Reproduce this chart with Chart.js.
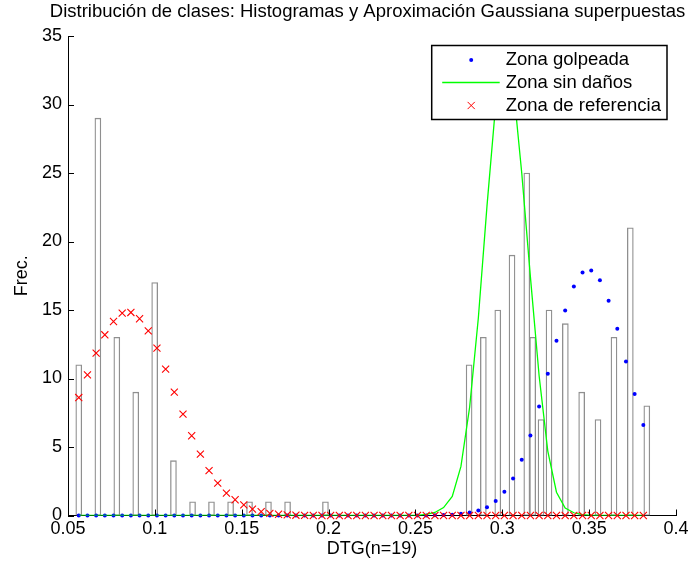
<!DOCTYPE html>
<html>
<head>
<meta charset="utf-8">
<script src="https://cdn.jsdelivr.net/npm/chart.js@4"></script>
<style>
  html, body { margin: 0; padding: 0; background: #fff; }
  #wrap { width: 695px; height: 567px; }
</style>
</head>
<body>
<div id="wrap"><canvas id="c" width="695" height="567"></canvas></div>
<script>
// ---- data ----
const chartTitle = 'Distribución de clases: Histogramas y Aproximación Gaussiana superpuestas';
const xAxisTitle = 'DTG(n=19)';
const yAxisTitle = 'Frec.';

const xTickValues = [0.05, 0.1, 0.15, 0.2, 0.25, 0.3, 0.35, 0.4];
const xTickLabels = ['0.05', '0.1', '0.15', '0.2', '0.25', '0.3', '0.35', '0.4'];
const yTickValues = [0, 5, 10, 15, 20, 25, 30, 35];
const yTickLabels = ['0', '5', '10', '15', '20', '25', '30', '35'];

// histogram bins (centers) and counts
const refBinCenters = [0.0562, 0.0672, 0.0781, 0.0890, 0.0999, 0.1107, 0.1217, 0.1326, 0.1436, 0.1545, 0.1654, 0.1764, 0.1873, 0.1982];
const refCounts     = [11, 29, 13, 9, 17, 4, 1, 1, 1, 1, 1, 1, 0, 1];
const sanoBinCenters = [0.2809, 0.2891, 0.2974, 0.3056, 0.3141, 0.3223];
const sanoCounts     = [11, 13, 15, 19, 25, 7];
const golpBinCenters = [0.3175, 0.3269, 0.3363, 0.3457, 0.3551, 0.3643, 0.3737, 0.3832];
const golpCounts     = [13, 15, 14, 9, 7, 13, 21, 8];

// gaussian approximation sample points
const xGrid = [
  0.0562, 0.0612, 0.0662, 0.0712, 0.0762, 0.0812, 0.0862, 0.0912, 0.0962, 0.1012,
  0.1062, 0.1112, 0.1162, 0.1212, 0.1262, 0.1312, 0.1362, 0.1412, 0.1462, 0.1512,
  0.1562, 0.1612, 0.1662, 0.1712, 0.1762, 0.1812, 0.1862, 0.1912, 0.1962, 0.2012,
  0.2062, 0.2112, 0.2162, 0.2212, 0.2262, 0.2312, 0.2362, 0.2412, 0.2462, 0.2512,
  0.2562, 0.2612, 0.2662, 0.2712, 0.2762, 0.2812, 0.2862, 0.2912, 0.2962, 0.3012,
  0.3062, 0.3112, 0.3162, 0.3212, 0.3262, 0.3312, 0.3362, 0.3412, 0.3462, 0.3512,
  0.3562, 0.3612, 0.3662, 0.3712, 0.3762, 0.3812
];
const golpeadaFit = [
  0, 0, 0, 0, 0, 0, 0, 0, 0, 0,
  0, 0, 0, 0, 0, 0, 0, 0, 0, 0,
  0, 0, 0, 0, 0, 0, 0, 0, 0, 0,
  0, 0, 0, 0, 0, 0, 0, 0, 0, 0,
  0, 0.01, 0.03, 0.06, 0.12, 0.22, 0.37, 0.61, 1.05, 1.73,
  2.70, 4.07, 5.84, 7.96, 10.34, 12.75, 14.96, 16.72, 17.74, 17.88,
  17.18, 15.67, 13.63, 11.24, 8.86, 6.60
];
const sinDanosFit = [
  0, 0, 0, 0, 0, 0, 0, 0, 0, 0,
  0, 0, 0, 0, 0, 0, 0, 0, 0, 0,
  0, 0, 0, 0, 0, 0, 0, 0, 0, 0,
  0, 0, 0, 0, 0, 0, 0, 0, 0, 0,
  0.08, 0.22, 0.58, 1.39, 3.58, 7.9, 14.4, 22.6, 30.0, 33.5,
  31.5, 25.0, 17.4, 10.2, 4.7, 1.7, 0.55, 0.2, 0.06, 0,
  0, 0, 0, 0, 0, 0
];
const referenciaFit = [
  8.61, 10.27, 11.85, 13.19, 14.16, 14.77, 14.82, 14.36, 13.48, 12.22,
  10.68, 9.0, 7.40, 5.82, 4.48, 3.28, 2.36, 1.63, 1.15, 0.78,
  0.47, 0.28, 0.16, 0.09, 0.05, 0.02, 0.01, 0, 0, 0,
  0, 0, 0, 0, 0, 0, 0, 0, 0, 0,
  0, 0, 0, 0, 0, 0, 0, 0, 0, 0,
  0, 0, 0, 0, 0, 0, 0, 0, 0, 0,
  0, 0, 0, 0, 0, 0
];

const seriesLabels = ['Zona golpeada', 'Zona sin daños', 'Zona de referencia'];

// ---- helpers ----
const pts = (xs, ys) => xs.map((x, i) => ({ x: x, y: ys[i] }));
const FONT = '"Liberation Sans", Arial, Helvetica, sans-serif';
Chart.defaults.font.family = FONT;
Chart.defaults.color = '#000';

const barStyle = {
  type: 'bar',
  backgroundColor: '#ffffff',
  borderColor: '#8f8f8f',
  borderWidth: 1.3,
  barThickness: 6,
  grouped: false,
  borderSkipped: false,
  order: 5
};

const inwardTicks = {
  id: 'inwardTicks',
  afterDatasetsDraw(chart) {
    const { ctx, chartArea, scales } = chart;
    const xs = scales.x, ys = scales.y;
    ctx.save();
    ctx.strokeStyle = '#000';
    ctx.lineWidth = 1;
    ctx.beginPath();
    xs.ticks.forEach(t => {
      const px = Math.round(xs.getPixelForValue(t.value)) + 0.5;
      ctx.moveTo(px, chartArea.bottom);
      ctx.lineTo(px, chartArea.bottom - 6);
    });
    ys.ticks.forEach(t => {
      const py = Math.round(ys.getPixelForValue(t.value)) + 0.5;
      ctx.moveTo(chartArea.left, py);
      ctx.lineTo(chartArea.left + 6, py);
    });
    ctx.stroke();
    ctx.restore();
  }
};

const boxLegend = {
  id: 'boxLegend',
  afterDraw(chart) {
    const { ctx, chartArea } = chart;
    const order = [2, 1, 0]; // golpeada, sin danos, referencia
    ctx.save();
    ctx.font = '18.5px ' + FONT;
    let maxW = 0;
    order.forEach(i => { maxW = Math.max(maxW, ctx.measureText(chart.data.datasets[i].label).width); });
    const textOff = 74;
    const w = textOff + maxW + 6;
    const h = 74;
    const right = chartArea.right - 9;
    const left = right - w;
    const top = chartArea.top + 9.5;
    ctx.fillStyle = '#fff';
    ctx.fillRect(left, top, w, h);
    ctx.strokeStyle = '#000';
    ctx.lineWidth = 1.5;
    ctx.strokeRect(left, top, w, h);
    const rowY = [top + 14.5, top + 37, top + 60];
    order.forEach((di, r) => {
      const ds = chart.data.datasets[di];
      const y = rowY[r];
      const mx = left + 39.5;
      if (di === 2) {
        ctx.fillStyle = ds.backgroundColor;
        ctx.beginPath(); ctx.arc(mx, y, 2, 0, Math.PI * 2); ctx.fill();
      } else if (di === 1) {
        ctx.strokeStyle = ds.borderColor; ctx.lineWidth = 1.3;
        ctx.beginPath(); ctx.moveTo(left + 10.5, y); ctx.lineTo(left + 68, y); ctx.stroke();
      } else {
        ctx.strokeStyle = ds.borderColor; ctx.lineWidth = 1;
        const d = 3.6;
        ctx.beginPath();
        ctx.moveTo(mx - d, y - d); ctx.lineTo(mx + d, y + d);
        ctx.moveTo(mx - d, y + d); ctx.lineTo(mx + d, y - d);
        ctx.stroke();
      }
      ctx.fillStyle = '#000';
      ctx.textBaseline = 'middle';
      ctx.textAlign = 'left';
      ctx.fillText(ds.label, left + textOff, y);
    });
    ctx.restore();
  }
};

new Chart(document.getElementById('c'), {
  type: 'bar',
  data: {
    datasets: [
      {
        type: 'line', label: seriesLabels[2], data: pts(xGrid, referenciaFit),
        showLine: false, pointStyle: 'crossRot', pointRadius: 5, pointBorderWidth: 1.1,
        borderColor: '#ff0000', backgroundColor: '#ff0000', clip: false, order: 0
      },
      {
        type: 'line', label: seriesLabels[1], data: pts(xGrid, sinDanosFit),
        borderColor: '#00ff00', backgroundColor: '#00ff00', borderWidth: 1.3,
        pointRadius: 0, tension: 0, fill: false, order: 1
      },
      {
        type: 'line', label: seriesLabels[0], data: pts(xGrid, golpeadaFit),
        showLine: false, pointStyle: 'circle', pointRadius: 2, pointBorderWidth: 0,
        borderColor: '#0000ff', backgroundColor: '#0000ff', clip: false, order: 2
      },
      Object.assign({ label: 'hist referencia', data: pts(refBinCenters, refCounts) }, barStyle),
      Object.assign({ label: 'hist sin daños', data: pts(sanoBinCenters, sanoCounts) }, barStyle),
      Object.assign({ label: 'hist golpeada', data: pts(golpBinCenters, golpCounts) }, barStyle)
    ]
  },
  options: {
    responsive: false,
    animation: false,
    devicePixelRatio: 1,
    layout: { padding: { left: 40, right: 0, top: 0, bottom: 0 } },
    plugins: {
      legend: { display: false },
      tooltip: { enabled: false },
      title: {
        display: true, text: chartTitle, color: '#000',
        font: { size: 18.5, weight: 'normal' },
        padding: { top: 1, bottom: 12.8 }
      }
    },
    scales: {
      x: {
        type: 'linear', min: 0.05, max: 0.4, offset: false,
        grid: { display: false, drawTicks: false },
        border: { display: true, color: '#000', width: 1 },
        afterBuildTicks: s => { s.ticks = xTickValues.map(v => ({ value: v })); },
        afterFit: s => { s.height = 51.5; },
        ticks: {
          font: { size: 18 }, color: '#000', padding: 3, maxRotation: 0, autoSkip: false,
          callback: (v) => { const i = xTickValues.findIndex(t => Math.abs(t - v) < 1e-9); return i >= 0 ? xTickLabels[i] : ''; }
        },
        title: { display: true, text: xAxisTitle, color: '#000', font: { size: 18 }, padding: { top: 0, bottom: 7 } }
      },
      y: {
        type: 'linear', min: 0, max: 35,
        grid: { display: false, drawTicks: false },
        border: { display: true, color: '#000', width: 1 },
        afterBuildTicks: s => { s.ticks = yTickValues.map(v => ({ value: v })); },
        afterFit: s => { s.width = 28; },
        ticks: {
          font: { size: 18 }, color: '#000', padding: 6, autoSkip: false,
          callback: (v) => { const i = yTickValues.indexOf(v); return i >= 0 ? yTickLabels[i] : ''; }
        },
        title: { display: true, text: yAxisTitle, color: '#000', font: { size: 18 }, padding: { top: -28.8, bottom: 0 } }
      },
      yRight: {
        type: 'linear', position: 'right', min: 0, max: 35,
        grid: { display: false, drawTicks: false },
        border: { display: false },
        ticks: { display: false },
        afterFit: s => { s.width = 19; }
      }
    }
  },
  plugins: [inwardTicks, boxLegend]
});
</script>
</body>
</html>
